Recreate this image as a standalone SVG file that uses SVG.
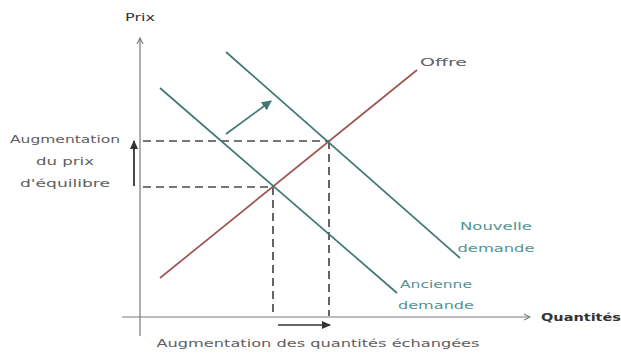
<svg xmlns="http://www.w3.org/2000/svg" width="621" height="356" viewBox="0 0 621 356">
  <style>
    .axis { stroke: #7a7a7a; stroke-width: 1.2; fill: none; }
    .dash { stroke: #4a4a4a; stroke-width: 1.7; stroke-dasharray: 8 5; fill: none; }
    .demand { stroke: #3f7774; stroke-width: 1.7; fill: none; }
    .supply { stroke: #9b5652; stroke-width: 1.7; fill: none; }
    .lbl { font-family: "DejaVu Sans", "Liberation Sans", sans-serif; font-size: 11px; fill: #606060; }
    .teal { fill: #55938f; }
    .dark { fill: #333333; }
  </style>
  <defs>
    <marker id="axisHead" markerWidth="8" markerHeight="8" refX="7" refY="4" orient="auto" markerUnits="userSpaceOnUse">
      <path d="M1,1 L7,4 L1,7" fill="none" stroke="#7a7a7a" stroke-width="1.1"/>
    </marker>
    <marker id="darkHead" markerWidth="10" markerHeight="10" refX="8" refY="5" orient="auto" markerUnits="userSpaceOnUse">
      <path d="M0,1 L9,5 L0,9 Z" fill="#333333"/>
    </marker>
    <marker id="tealHead" markerWidth="12" markerHeight="12" refX="9" refY="6" orient="auto" markerUnits="userSpaceOnUse">
      <path d="M0,1 L10,6 L0,11 Z" fill="#3f7774"/>
    </marker>
  </defs>
  <rect width="621" height="356" fill="#ffffff"/>

  <!-- axes -->
  <g id="axes">
    <line class="axis" x1="140" y1="336" x2="140" y2="38" marker-end="url(#axisHead)"/>
    <line class="axis" x1="122" y1="317" x2="530" y2="317" marker-end="url(#axisHead)"/>
    <text class="lbl dark" x="140" y="21" text-anchor="middle" textLength="30" lengthAdjust="spacingAndGlyphs">Prix</text>
    <text class="lbl dark" x="541" y="321" textLength="80" lengthAdjust="spacingAndGlyphs" font-weight="bold">Quantités</text>
  </g>

  <!-- connectors: curves, guides and shift arrows -->
  <g id="connectors">
    <line class="dash" x1="143" y1="141" x2="329" y2="141"/>
    <line class="dash" x1="143" y1="187" x2="273" y2="187"/>
    <line class="dash" x1="273" y1="187" x2="273" y2="316"/>
    <line class="dash" x1="329" y1="141" x2="329" y2="316"/>
    <line class="demand" x1="226" y1="134" x2="271" y2="101" marker-end="url(#tealHead)"/>
    <line x1="134" y1="186" x2="134" y2="141" stroke="#333333" stroke-width="1.8" marker-end="url(#darkHead)"/>
    <line x1="278" y1="325" x2="330" y2="325" stroke="#333333" stroke-width="1.4" marker-end="url(#darkHead)"/>
  </g>

  <g id="offre">
    <line class="supply" x1="160" y1="278" x2="417" y2="70"/>
    <text class="lbl" x="420" y="66" textLength="47" lengthAdjust="spacingAndGlyphs">Offre</text>
  </g>

  <g id="ancienne-demande">
    <line class="demand" x1="160" y1="88" x2="397" y2="293"/>
    <text class="lbl teal" x="436" y="288" text-anchor="middle" textLength="72" lengthAdjust="spacingAndGlyphs">Ancienne</text>
    <text class="lbl teal" x="436" y="309" text-anchor="middle" textLength="76" lengthAdjust="spacingAndGlyphs">demande</text>
  </g>

  <g id="nouvelle-demande">
    <line class="demand" x1="226" y1="52" x2="460" y2="258"/>
    <text class="lbl teal" x="496" y="230" text-anchor="middle" textLength="72" lengthAdjust="spacingAndGlyphs">Nouvelle</text>
    <text class="lbl teal" x="496" y="252" text-anchor="middle" textLength="77" lengthAdjust="spacingAndGlyphs">demande</text>
  </g>

  <g id="hausse-prix">
    <text class="lbl" x="65" y="143" text-anchor="middle" textLength="110" lengthAdjust="spacingAndGlyphs">Augmentation</text>
    <text class="lbl" x="65" y="165" text-anchor="middle" textLength="58" lengthAdjust="spacingAndGlyphs">du prix</text>
    <text class="lbl" x="65" y="187" text-anchor="middle" textLength="90" lengthAdjust="spacingAndGlyphs">d'équilibre</text>
  </g>

  <g id="hausse-quantites">
    <text class="lbl" x="318" y="347" text-anchor="middle" textLength="323" lengthAdjust="spacingAndGlyphs">Augmentation des quantités échangées</text>
  </g>
</svg>
